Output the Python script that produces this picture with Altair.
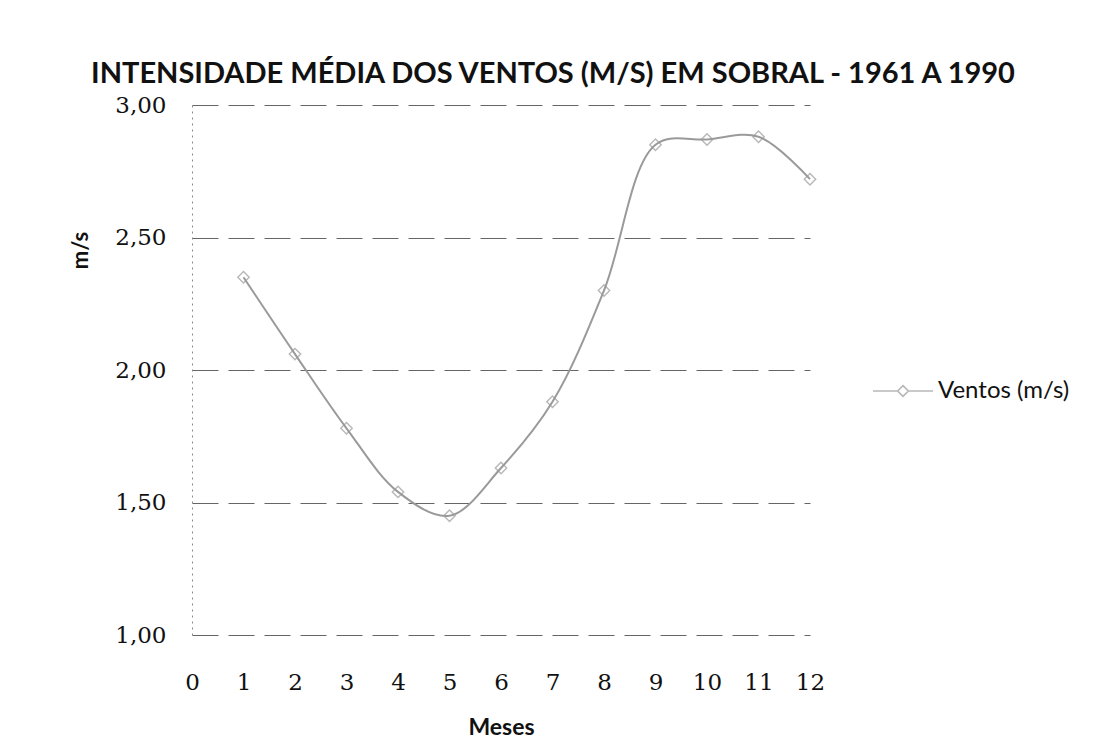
import altair as alt
import pandas as pd

meses = [1, 2, 3, 4, 5, 6, 7, 8, 9, 10, 11, 12]
ventos = [2.35, 2.06, 1.78, 1.54, 1.45, 1.63, 1.88, 2.30, 2.85, 2.87, 2.88, 2.72]
serie = "Ventos (m/s)"
x_ticks = list(range(0, 13))
y_ticks = [1.0, 1.5, 2.0, 2.5, 3.0]

df = pd.DataFrame({"mes": meses, "vento": ventos, "serie": [serie] * len(meses)})

GREY = "#9a9a9a"

x_enc = alt.X(
    "mes:Q",
    scale=alt.Scale(domain=[0, 12], nice=False, zero=False),
    axis=alt.Axis(
        values=x_ticks, title="Meses", grid=False, domain=False, ticks=False,
        labelFont="DejaVu Serif", labelFontSize=23, labelColor="#111",
        labelPadding=36, titleFont="Lato", titleFontSize=23, titleFontWeight="bold",
        titleColor="#111", titlePadding=22, labelFlush=False,
    ),
)
y_enc = alt.Y(
    "vento:Q",
    scale=alt.Scale(domain=[1, 3], nice=False, zero=False),
    axis=alt.Axis(
        values=y_ticks, title="m/s",
        labelExpr="replace(format(datum.value, '.2f'), '.', ',')",
        grid=True, gridColor="#666", gridDash=[26, 10], gridWidth=1.1,
        domain=True, domainColor="#888", domainDash=[2, 4], domainWidth=1,
        ticks=False, labelFont="DejaVu Serif", labelFontSize=23, labelColor="#111",
        labelPadding=26, titleFont="Lato", titleFontSize=22, titleFontWeight="bold",
        titleColor="#111", titleAngle=270, titleX=-100, titleY=145,
        titleAlign="center", titleBaseline="bottom",
    ),
)

base = alt.Chart(df)

line = base.mark_line(interpolate="catmull-rom", color=GREY, strokeWidth=2).encode(
    x=x_enc, y=y_enc
)
points = base.mark_point(shape="diamond", filled=False, size=130, strokeWidth=1.4).encode(
    x=x_enc,
    y=y_enc,
    color=alt.Color(
        "serie:N",
        scale=alt.Scale(range=[GREY]),
        legend=alt.Legend(
            title=None, orient="none", legendX=680, legendY=255,
            symbolType="M-1,0L-0.2,0M0.2,0L1,0M0,-0.18L0.18,0L0,0.18L-0.18,0Z",
            symbolSize=3600, symbolStrokeWidth=1.6, symbolStrokeColor=GREY,
            symbolFillColor="transparent",
            labelFont="Lato", labelFontSize=24, labelColor="#111", labelOffset=4,
        ),
    ),
)

chart = (
    alt.layer(line, points)
    .properties(
        width=618,
        height=530,
        title=alt.TitleParams(
            text="INTENSIDADE MÉDIA DOS VENTOS (M/S) EM SOBRAL - 1961 A 1990",
            font="Lato", fontSize=29, fontWeight="bold", color="#111",
            anchor="middle", frame="group", dx=52, offset=5,
        ),
        autosize=alt.AutoSizeParams(type="none"),
        padding={"left": 184, "top": 97, "right": 290, "bottom": 115},
        background="white",
    )
    .configure_view(stroke=None)
)

chart.save("out.html", embed_options={"renderer": "svg", "actions": False})
